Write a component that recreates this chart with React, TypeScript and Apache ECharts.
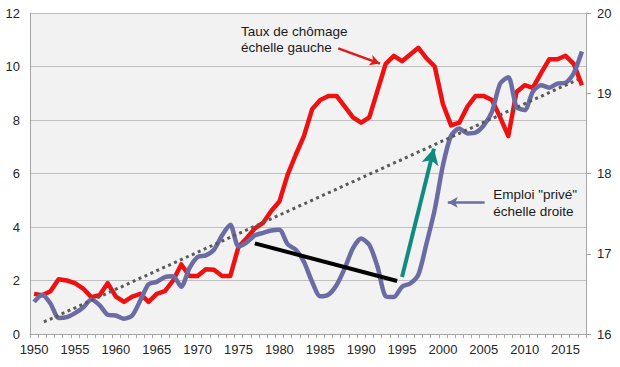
import React, { useEffect, useRef } from "react";
import * as echarts from "echarts";

const years: string[] = Array.from({ length: 68 }, (_, i) => String(1950 + i));

const unemployment: number[] = [
  1.5, 1.45, 1.6, 2.05, 2.0, 1.9, 1.7, 1.38, 1.45, 1.9,
  1.4, 1.2, 1.4, 1.5, 1.2, 1.5, 1.6, 2.0, 2.6, 2.17,
  2.17, 2.42, 2.4, 2.17, 2.17, 3.26, 3.58, 3.95, 4.15, 4.6,
  4.95, 5.95, 6.7, 7.4, 8.4, 8.75, 8.9, 8.9, 8.5, 8.1,
  7.9, 8.1, 9.1, 10.1, 10.4, 10.2, 10.45, 10.7, 10.3, 10.0,
  8.6, 7.8, 7.9, 8.5, 8.9, 8.9, 8.75, 8.1, 7.4, 9.05,
  9.3, 9.2, 9.75, 10.27, 10.27, 10.4, 10.1, 9.3,
];

const privateEmployment: number[] = [
  16.4, 16.49, 16.38, 16.2, 16.21, 16.26, 16.33, 16.43, 16.36, 16.24,
  16.23, 16.19, 16.23, 16.42, 16.62, 16.65, 16.71, 16.72, 16.59, 16.82,
  16.96, 16.98, 17.05, 17.23, 17.36, 17.09, 17.14, 17.23, 17.26, 17.29,
  17.3, 17.12, 17.05, 16.9, 16.65, 16.47, 16.49, 16.61, 16.82, 17.07,
  17.19, 17.11, 16.84, 16.47, 16.46, 16.59, 16.63, 16.74, 17.13, 17.55,
  18.1, 18.47, 18.56, 18.5, 18.51, 18.6, 18.77, 19.12, 19.2, 18.83,
  18.79, 19.02, 19.1, 19.07, 19.12, 19.13, 19.25, 19.52,
];

// trend line (right scale), endpoints [year, value]
const trendLine: number[][] = [
  [1951.2, 16.15],
  [2016.5, 19.17],
];

// black segment (right scale)
const blackSegment: number[][] = [
  [1977, 17.13],
  [1994.4, 16.66],
];

// teal arrow (right scale)
const tealArrow: number[][] = [
  [1995, 16.71],
  [1998.9, 18.31],
];

// annotation pointer arrows (right scale)
const redPointer: number[][] = [
  [1987.2, 19.56],
  [1992.3, 19.37],
];
const purplePointer: number[][] = [
  [2005.1, 17.64],
  [2000.6, 17.64],
];

const leftTicks = { min: 0, max: 12, interval: 2 };
const rightTicks = { min: 16, max: 20, interval: 1 };

const FONT = "Liberation Sans";

function arrowSeries(pts: number[][], color: string, width: number, size: number[]) {
  return {
    type: "line",
    xAxisIndex: 1,
    yAxisIndex: 1,
    data: [],
    silent: true,
    markLine: {
      silent: true,
      symbol: ["none", "arrow"],
      symbolSize: size,
      label: { show: false },
      lineStyle: { color, width, type: "solid" },
      emphasis: { disabled: true },
      data: [[{ coord: pts[0] }, { coord: pts[1] }]],
    },
  };
}

export default function App() {
  const ref = useRef<HTMLDivElement>(null);

  useEffect(() => {
    if (!ref.current) return;
    const chart = echarts.init(ref.current, undefined, { renderer: "svg" });
    chart.setOption({
      animation: false,
      backgroundColor: "#ffffff",
      textStyle: { fontFamily: FONT },
      grid: {
        left: 30,
        right: 34,
        top: 13,
        bottom: 33,
        show: true,
        backgroundColor: "#f2f2f2",
        borderWidth: 0,
      },
      xAxis: [
        {
          type: "category",
          data: years,
          boundaryGap: true,
          axisLine: { show: true, lineStyle: { color: "#a6a6a6", width: 1 } },
          axisTick: { show: true, interval: 0, length: 4, lineStyle: { color: "#a6a6a6" } },
          axisLabel: {
            interval: 4,
            margin: 9,
            fontSize: 13,
            color: "#262626",
            fontFamily: FONT,
          },
          splitLine: { show: false },
        },
        {
          type: "value",
          min: 1949.5,
          max: 2017.5,
          show: false,
        },
      ],
      yAxis: [
        {
          type: "value",
          min: leftTicks.min,
          max: leftTicks.max,
          interval: leftTicks.interval,
          axisLine: { show: true, lineStyle: { color: "#a6a6a6" } },
          axisTick: { show: false },
          axisLabel: { margin: 10, fontSize: 13, color: "#262626", fontFamily: FONT },
          splitLine: { show: true, lineStyle: { color: "#bfbfbf", width: 1 } },
        },
        {
          type: "value",
          position: "right",
          min: rightTicks.min,
          max: rightTicks.max,
          interval: rightTicks.interval,
          axisLine: { show: true, lineStyle: { color: "#a6a6a6" } },
          axisTick: { show: true, length: 5, lineStyle: { color: "#a6a6a6" } },
          axisLabel: { margin: 11, fontSize: 13, color: "#262626", fontFamily: FONT },
          splitLine: { show: false },
        },
      ],
      series: [
        {
          name: "Taux de chômage",
          type: "line",
          xAxisIndex: 0,
          yAxisIndex: 0,
          data: unemployment,
          symbol: "none",
          lineStyle: { color: "#ee1111", width: 4.5, join: "round" },
          silent: true,
        },
        {
          name: "Emploi privé",
          type: "line",
          xAxisIndex: 0,
          yAxisIndex: 1,
          data: privateEmployment,
          symbol: "none",
          smooth: 0.25,
          lineStyle: { color: "#6c6ca4", width: 4.5, join: "round" },
          silent: true,
        },
        {
          name: "trend",
          type: "line",
          xAxisIndex: 1,
          yAxisIndex: 1,
          data: trendLine,
          symbol: "none",
          lineStyle: { color: "#5a5a5a", width: 3, type: [3, 3.5] },
          silent: true,
        },
        {
          name: "black",
          type: "line",
          xAxisIndex: 1,
          yAxisIndex: 1,
          data: blackSegment,
          symbol: "none",
          lineStyle: { color: "#000000", width: 4, cap: "butt" },
          silent: true,
        },
        arrowSeries(tealArrow, "#138a80", 4, [13, 16]),
        arrowSeries(redPointer, "#e31a1c", 2.5, [8, 10]),
        arrowSeries(purplePointer, "#6c6ca4", 2.5, [8, 10]),
      ],
      graphic: [
        {
          type: "text",
          left: 241,
          top: 23,
          silent: true,
          style: {
            text: "Taux de chômage\néchelle gauche",
            fontSize: 13.5,
            lineHeight: 16.5,
            fontFamily: FONT,
            fill: "#1a1a1a",
            align: "left",
          },
        },
        {
          type: "text",
          right: 43,
          top: 186,
          silent: true,
          style: {
            text: 'Emploi "privé"\néchelle droite',
            fontSize: 13.5,
            lineHeight: 17,
            fontFamily: FONT,
            fill: "#1a1a1a",
            align: "right",
          },
        },
      ],
    });
    return () => chart.dispose();
  }, []);

  return (
    <div
      ref={ref}
      style={{ position: "fixed", left: 0, top: 0, width: 620, height: 367 }}
    />
  );
}
